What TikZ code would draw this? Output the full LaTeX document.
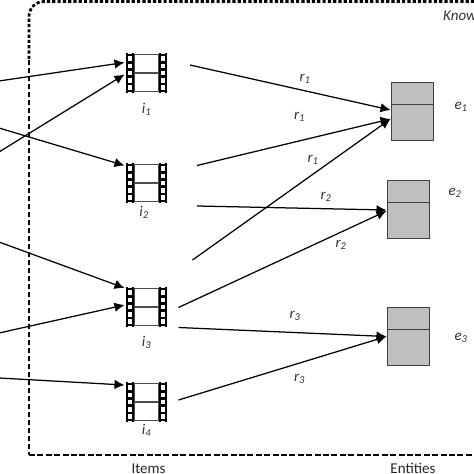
\documentclass[tikz,border=0pt]{standalone}
\usepackage{fontspec}
\setmainfont{Carlito}
\usetikzlibrary{arrows.meta}
\definecolor{entgray}{HTML}{BFBFBF}
\definecolor{entline}{HTML}{404040}
\tikzset{
  frameline/.style={line width=2.7pt},
  conn/.style={line width=1.25pt,-{Latex[length=10pt,width=9.5pt]}},
  lab/.style={font=\fontsize{15}{17}\selectfont\itshape,inner sep=0pt,text=black!80},
  plain/.style={font=\fontsize{15}{17}\selectfont,inner sep=0pt,text=black!85},
  filmbox/.style={draw=black!70,line width=1.2pt,minimum width=25pt,minimum height=37pt,inner sep=0pt},
  entbox/.style={draw=entline,fill=entgray,line width=1pt,minimum width=42pt,minimum height=58pt,inner sep=0pt},
  strip/.style={line width=2.3pt,black},
  hole/.style={fill=black}
}
\newcommand{\filmicon}[3]{%
  \node[filmbox] (#1) at (#2,#3) {};
  \draw[black!70,line width=1.2pt] (#1.west) -- (#1.east);
  \foreach \dx in {-19.5,-13.5,13.5,19.5}
    \draw[strip] ([xshift=\dx pt,yshift=20pt]#1.center) -- ([xshift=\dx pt,yshift=-20pt]#1.center);
  \foreach \dx in {-16.5,16.5}
    \foreach \dy in {-18,-10.8,-3.6,3.6,10.8,18}
      \fill[hole] ([xshift=\dx pt-3.4pt,yshift=\dy pt-1.3pt]#1.center) rectangle ([xshift=\dx pt+3.4pt,yshift=\dy pt+1.3pt]#1.center);
}
\newcommand{\entity}[4]{% name, x, y, midline y offset from top
  \node[entbox] (#1) at (#2,#3) {};
  \draw[entline,line width=1pt] ([yshift=-#4 pt]#1.north west) -- ([yshift=-#4 pt]#1.north east);
}
\begin{document}
\begin{tikzpicture}[x=1pt,y=-1pt]
\useasboundingbox (0,0) rectangle (474,474);
\clip (0,0) rectangle (474,474);
% frame
\draw[frameline,rounded corners=15pt,dash pattern=on 3.2pt off 2.1pt] (490,1.5) -- (29,1.5) -- (29,60);
\draw[frameline,dash pattern=on 5pt off 3pt] (29,60) -- (29,455);
\draw[frameline,dash pattern=on 6pt off 2.4pt] (29,455) -- (490,455);
% items
\filmicon{i1}{146.5}{73}
\filmicon{i2}{146.5}{183}
\filmicon{i3}{146.5}{307}
\filmicon{i4}{146.5}{402}
% entities
\entity{e1}{412}{111}{23}
\entity{e2}{408}{209}{23}
\entity{e3}{408}{336}{23}
% free ends
\coordinate (la) at (-1,81);
\coordinate (lb) at (-1,152);
\coordinate (lc) at (-1,128);
\coordinate (ld) at (-1,242);
\coordinate (le) at (-1,333);
\coordinate (lf) at (-1,378);
\coordinate (ia) at (124.5,62.5);
\coordinate (ib) at (124.5,74.5);
\coordinate (ic) at (124.5,165.5);
\coordinate (id) at (124.5,288);
\coordinate (ie) at (124.5,305);
\coordinate (if) at (124.5,385);
\draw[conn] (la) -- (ia);
\draw[conn] (lb) -- (ib);
\draw[conn] (lc) -- (ic);
\draw[conn] (ld) -- (id);
\draw[conn] (le) -- (ie);
\draw[conn] (lf) -- (if);
% right connectors
\coordinate (s1) at (190,65);
\coordinate (s2) at (197,165.5);
\coordinate (s3) at (192.5,260);
\coordinate (s4) at (197,206);
\coordinate (s5) at (178.5,307.5);
\coordinate (s6) at (178.5,327.5);
\coordinate (s7) at (178.5,400);
\coordinate (t1) at (390.5,110);
\coordinate (t2) at (390.5,119);
\coordinate (t3) at (386.5,210);
\coordinate (t4) at (386.5,211);
\coordinate (t5) at (386.5,336.5);
\draw[conn] (s1) -- (t1);
\draw[conn] (s2) -- (t2);
\draw[conn] (s3) -- (t2);
\draw[conn] (s4) -- (t3);
\draw[conn] (s5) -- (t4);
\draw[conn] (s6) -- (t5);
\draw[conn] (s7) -- (t5);
% labels
\node[lab] (li1) at (146.5,109) {i\textsubscript{1}};
\node[lab] (li2) at (144,212) {i\textsubscript{2}};
\node[lab] (li3) at (146.5,342) {i\textsubscript{3}};
\node[lab] (li4) at (146.5,430) {i\textsubscript{4}};
\node[lab] (le1) at (461,107) {e\textsubscript{1}};
\node[lab] (le2) at (455,193) {e\textsubscript{2}};
\node[lab] (le3) at (461,338) {e\textsubscript{3}};
\node[lab] (r1a) at (305,79) {r\textsubscript{1}};
\node[lab] (r1b) at (299.5,117) {r\textsubscript{1}};
\node[lab] (r1c) at (313,160) {r\textsubscript{1}};
\node[lab] (r2a) at (326,197) {r\textsubscript{2}};
\node[lab] (r2b) at (341,244.5) {r\textsubscript{2}};
\node[lab] (r3a) at (295,316) {r\textsubscript{3}};
\node[lab] (r3b) at (299.5,379) {r\textsubscript{3}};
\node[lab,anchor=west] (kg) at (443,16) {Know};
\node[plain,anchor=base] (items) at (148.5,473) {Items};
\node[plain,anchor=base] (ents) at (413,473) {Entities};
\end{tikzpicture}
\end{document}
